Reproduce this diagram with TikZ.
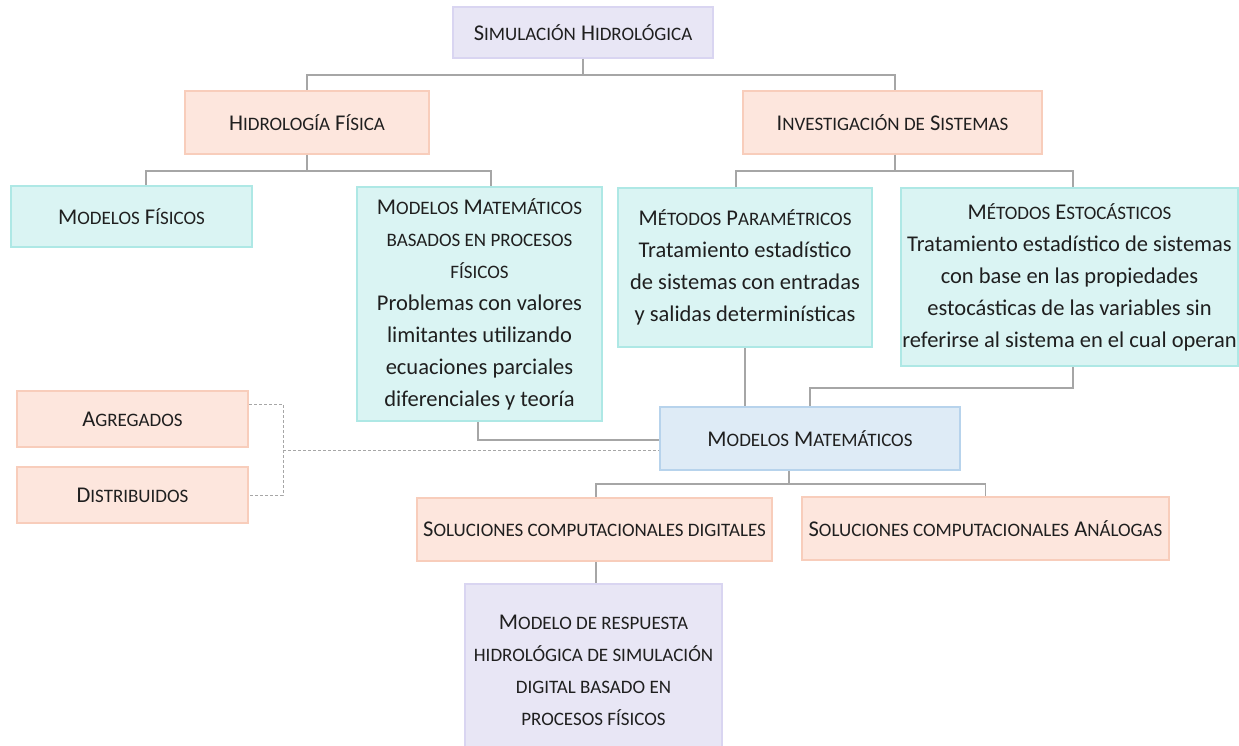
\documentclass[tikz,border=0pt]{standalone}
\usepackage{fontspec}
\setmainfont{Carlito}
\usepackage{xcolor}
\usetikzlibrary{positioning}
\definecolor{lilafill}{HTML}{E8E6F5}
\definecolor{lilaline}{HTML}{D9D5F1}
\definecolor{peachfill}{HTML}{FDE6DD}
\definecolor{peachline}{HTML}{F8CDBB}
\definecolor{aquafill}{HTML}{DAF4F3}
\definecolor{aqualine}{HTML}{AEE8E5}
\definecolor{bluefill}{HTML}{DEEBF6}
\definecolor{blueline}{HTML}{B7D3EC}
\definecolor{wiregray}{HTML}{A6A6A6}
\newcommand\smc[1]{{\fontsize{19}{32}\selectfont\MakeUppercase{#1}}}
\tikzstyle{box}=[draw,line width=2pt,align=center,inner sep=0pt,text=black!88,font=\fontsize{22.5}{32}\selectfont]
\tikzstyle{lila}=[box,fill=lilafill,draw=lilaline]
\tikzstyle{peach}=[box,fill=peachfill,draw=peachline]
\tikzstyle{aqua}=[box,fill=aquafill,draw=aqualine]
\tikzstyle{azul}=[box,fill=bluefill,draw=blueline]
\tikzstyle{link}=[draw=wiregray,line width=1.3pt]
\tikzstyle{loose}=[draw=wiregray,line width=0.8pt,densely dashed]

\begin{document}
\begin{tikzpicture}[x=1pt,y=-1pt]
	\useasboundingbox (0,0) rectangle (1239,746);
	\node[lila,minimum width=260pt,minimum height=51pt] (sim) at (583,32.5) {S\smc{imulación} H\smc{idrológica}};
	\node[peach,minimum width=244pt,minimum height=63pt] (hidf) at (307,122.5) {H\smc{idrología} F\smc{ísica}};
	\node[peach,minimum width=299pt,minimum height=63pt] (inv) at (892.5,122.5) {I\smc{nvestigación de} S\smc{istemas}};
	\node[aqua,minimum width=241pt,minimum height=61pt] (modf) at (131.5,216.5) {M\smc{odelos} F\smc{ísicos}};
	\node[aqua,minimum width=245pt,minimum height=234pt] (modmb) at (479.5,304) {M\smc{odelos} M\smc{atemáticos}\\ \smc{basados en procesos}\\ \smc{físicos}\\ Problemas con valores\\ limitantes utilizando\\ ecuaciones parciales\\ diferenciales y teoría};
	\node[aqua,minimum width=254pt,minimum height=159pt] (mpar) at (745,267.5) {M\smc{étodos} P\smc{aramétricos}\\ Tratamiento estadístico\\ de sistemas con entradas\\ y salidas determinísticas};
	\node[aqua,minimum width=337pt,minimum height=178pt] (mest) at (1069.5,277) {M\smc{étodos} E\smc{stocásticos}\\ Tratamiento estadístico de sistemas\\ con base en las propiedades\\ estocásticas de las variables sin\\ referirse al sistema en el cual operan};
	\node[azul,minimum width=300pt,minimum height=63pt] (mm) at (810,438.5) {M\smc{odelos} M\smc{atemáticos}};
	\node[peach,minimum width=231pt,minimum height=56pt] (agr) at (132.5,419) {A\smc{gregados}};
	\node[peach,minimum width=231pt,minimum height=56pt,below=18pt of agr] (dist) {D\smc{istribuidos}};
	\node[peach,minimum width=355pt,minimum height=63pt] (soldig) at (594.5,529.5) {S\smc{oluciones computacionales digitales}};
	\node[peach,minimum width=367pt,minimum height=63pt] (solan) at (985.5,528.5) {S\smc{oluciones computacionales} A\smc{nálogas}};
	\node[lila,minimum width=257pt,minimum height=172pt] (resp) at (593.5,670) {M\smc{odelo de respuesta}\\ \smc{hidrológica de simulación}\\ \smc{digital basado en}\\ \smc{procesos físicos}};
	% tree links
	\draw[link] (sim.south) -- ++(0,16) -| (hidf.north);
	\draw[link] (sim.south) -- ++(0,16) -| ([xshift=2.5pt]inv.north);
	\draw[link] (hidf.south) -- ++(0,16) -| ([xshift=14.5pt]modf.north);
	\draw[link] (hidf.south) -- ++(0,16) -| ([xshift=11.5pt]modmb.north);
	\draw[link] ([xshift=2.5pt]inv.south) -- ++(0,16) -| ([xshift=-9pt]mpar.north);
	\draw[link] ([xshift=2.5pt]inv.south) -- ++(0,16) -| ([xshift=3.5pt]mest.north);
	\draw[link] (mpar.south) -- (mpar.south |- mm.north);
	\draw[link] ([xshift=3.5pt]mest.south) -- ++(0,21) -| (mm.north);
	\draw[link] ([xshift=-1.5pt]modmb.south) |- ([yshift=-1.5pt]mm.west);
	\draw[link] ([xshift=-21pt]mm.south) -- ++(0,13) -| ([xshift=1.5pt]soldig.north);
	\draw[link] ([xshift=-21pt]mm.south) -- ++(0,13) -| (solan.north);
	\draw[link] ([xshift=1.5pt]soldig.south) -- ([xshift=1.5pt]soldig.south |- resp.north);
	% dashed bracket
	\coordinate (fork) at (283,450);
	\draw[loose] ([yshift=15pt]agr.east) -| (fork) |- (dist.east);
	\draw[loose] (fork) -- (fork -| mm.west);
\end{tikzpicture}
\end{document}
